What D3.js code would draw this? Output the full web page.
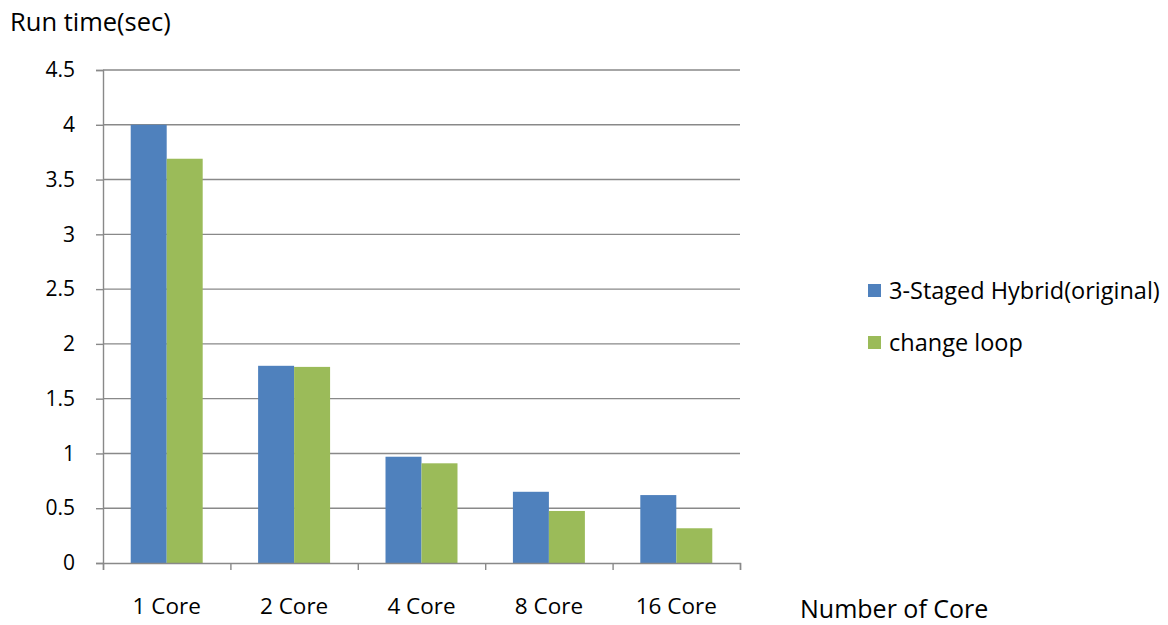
<!DOCTYPE html>
<html><head><meta charset="utf-8">
<script src="https://cdn.jsdelivr.net/npm/d3@7"></script>
<style>body{margin:0;background:#fff;} text{font-family:"Open Sans",sans-serif;fill:#000;}</style>
</head><body>
<svg id="c" width="1168" height="625"></svg>
<script>
const categories = ["1 Core","2 Core","4 Core","8 Core","16 Core"];
const seriesNames = ["3-Staged Hybrid(original)","change loop"];
const original = [4.0, 1.80, 0.97, 0.65, 0.62];
const changeLoop = [3.69, 1.79, 0.91, 0.475, 0.317];
const yTicks = [0,0.5,1,1.5,2,2.5,3,3.5,4,4.5];
const colors = ["#4F81BD","#9BBB59"];

const svg = d3.select("#c");
const L=103, R=740, T=70, B=563;
const y = d3.scaleLinear().domain([0,4.5]).range([B,T]);
const x0 = d3.scaleBand().domain(categories).range([L,R]).paddingInner(0.435).paddingOuter(0.2175);
const x1 = d3.scaleBand().domain([0,1]).range([0,x0.bandwidth()]);
const grid="#898989";

// gridlines
svg.append("g").selectAll("line").data(yTicks.filter(d=>d>0)).join("line")
  .attr("x1",L).attr("x2",R).attr("y1",d=>y(d)).attr("y2",d=>y(d))
  .attr("stroke",grid).attr("stroke-width",1.4);

// bars
const data = categories.map((c,i)=>({c, v:[original[i],changeLoop[i]]}));
const g = svg.append("g").selectAll("g").data(data).join("g").attr("transform",d=>`translate(${x0(d.c)},0)`);
g.selectAll("rect").data(d=>d.v.map((v,k)=>({v,k}))).join("rect")
  .attr("x",d=>x1(d.k)).attr("width",x1.bandwidth())
  .attr("y",d=>y(d.v)).attr("height",d=>B-y(d.v))
  .attr("fill",d=>colors[d.k]);

// y axis
const ya = svg.append("g").attr("transform",`translate(${L},0)`)
  .call(d3.axisLeft(y).tickValues(yTicks).tickFormat(d3.format("~g")).tickSize(7).tickPadding(21));
ya.select(".domain").attr("stroke",grid).attr("stroke-width",1.4);
ya.selectAll(".tick line").attr("stroke",grid).attr("stroke-width",1.4);
ya.selectAll("text").style("font-size","21px").attr("fill","#000");

// x axis
const xa = svg.append("g").attr("transform",`translate(0,${B})`)
  .call(d3.axisBottom(d3.scaleLinear().domain([0,5]).range([L,R])).ticks(5).tickSize(7).tickFormat(""));
xa.select(".domain").attr("stroke",grid).attr("stroke-width",1.4);
xa.selectAll(".tick line").attr("stroke",grid).attr("stroke-width",1.4);
svg.append("g").selectAll("text").data(categories).join("text")
  .attr("x",d=>x0(d)+x0.bandwidth()/2).attr("y",614).attr("text-anchor","middle")
  .style("font-size","22.5px").text(d=>d);

// titles
svg.append("text").attr("x",10).attr("y",31).style("font-size","25.5px").text("Run time(sec)");
svg.append("text").attr("x",800).attr("y",618).style("font-size","25px").text("Number of Core");

// legend
const lg = svg.append("g").selectAll("g").data(seriesNames).join("g")
  .attr("transform",(d,i)=>`translate(868,${284+i*52})`);
lg.append("rect").attr("width",13).attr("height",13).attr("fill",(d,i)=>colors[i]);
lg.append("text").attr("x",21).attr("y",15).style("font-size","23.5px").text(d=>d);
</script>
</body></html>
